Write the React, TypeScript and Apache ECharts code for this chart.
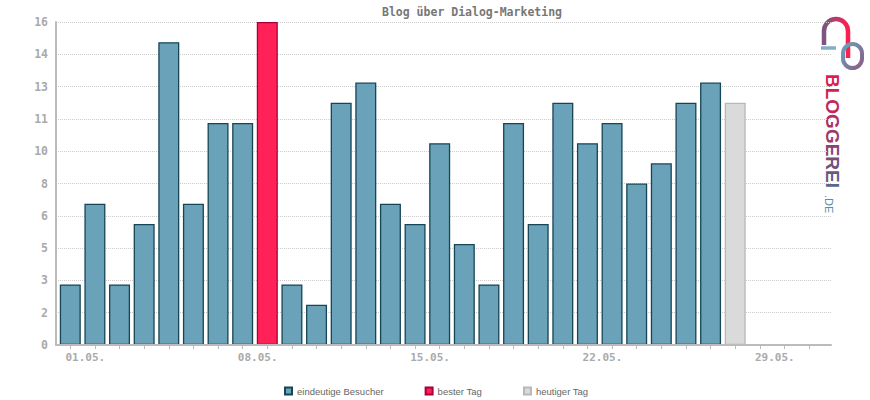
import React, { useEffect, useRef } from 'react';
import * as echarts from 'echarts';

const days = [1, 2, 3, 4, 5, 6, 7, 8, 9, 10, 11, 12, 13, 14, 15, 16, 17, 18, 19, 20, 21, 22, 23, 24, 25, 26, 27, 28];
const visitors = [3, 7, 3, 6, 15, 7, 11, 11, 16, 3, 2, 12, 13, 7, 6, 10, 5, 3, 11, 6, 12, 10, 11, 8, 9, 12, 13, 12];
const bestDay = 9;
const todayDay = 28;
const tickDays = [1, 2, 3, 4, 5, 6, 7, 8, 9, 10, 11, 12, 13, 14, 15, 16, 17, 18, 19, 20, 21, 22, 23, 24, 25, 26, 27, 28, 29, 30, 31];
const labelDays = [1, 8, 15, 22, 29];
const labelTexts = ['01.05.', '08.05.', '15.05.', '22.05.', '29.05.'];
const seriesNames = ['eindeutige Besucher', 'bester Tag', 'heutiger Tag'];
const titleText = 'Blog über Dialog-Marketing';
const logoLetters = ['B', 'L', 'O', 'G', 'G', 'E', 'R', 'E', 'I'];
const logoSuffix = '.DE';

const LABEL_SHIFT = 0.61;
const MONO = '"DejaVu Sans Mono", monospace';
const LOGO_COLORS = ['#dc1e53', '#d22056', '#c3275c', '#ad3263', '#9a3c6a', '#864570', '#754f78', '#665a82', '#5b668d'];

echarts.graphic.registerShape(
  'logoArch',
  echarts.graphic.extendPath('M3 27 L3 13 A12 12 0 0 1 27 13 L27 40', {})
);

export default function App() {
  const ref = useRef<HTMLDivElement>(null);
  useEffect(() => {
    document.body.style.margin = '0';
    const chart = echarts.init(ref.current!, null, { renderer: 'svg' });

    const pick = (f: (d: number) => boolean) =>
      days.map((d, i) => (f(d) ? [d, visitors[i]] : null)).filter((x) => x !== null);

    const barBase = { type: 'bar', barWidth: 21, barGap: '-100%' };

    const rich: Record<string, any> = {};
    logoLetters.forEach((_, i) => {
      rich['l' + i] = {
        fill: LOGO_COLORS[i],
        fontFamily: '"Liberation Sans", Arial, sans-serif',
        fontSize: 19,
        fontWeight: 'bold',
      };
    });
    const logoText = logoLetters.map((c, i) => `{l${i}|${c}}`).join('');

    chart.setOption({
      animation: false,
      title: {
        text: titleText,
        left: 467,
        top: 1,
        textAlign: 'center',
        textStyle: { fontFamily: MONO, fontSize: 11.5, fontWeight: 'bold', color: '#777777' },
      },
      grid: { left: 56, right: 39, top: 22, bottom: 55 },
      legend: {
        left: 279,
        top: 381,
        icon: 'rect',
        itemWidth: 7,
        itemHeight: 7,
        itemGap: 41,
        textStyle: { fontFamily: '"Liberation Sans", Arial, sans-serif', fontSize: 9.5, color: '#666666' },
        data: seriesNames,
      },
      xAxis: {
        type: 'value',
        min: 0.42,
        max: 31.89,
        z: 3,
        splitLine: { show: false },
        axisLine: { show: true, lineStyle: { color: '#bbbbbb', width: 2 } },
        axisTick: { show: true, length: 4, customValues: tickDays, lineStyle: { color: '#bbbbbb', width: 1 } },
        axisLabel: {
          customValues: labelDays.map((d) => d + LABEL_SHIFT),
          formatter: (v: number) => labelTexts[labelDays.indexOf(Math.round(v - LABEL_SHIFT))] || '',
          fontFamily: MONO,
          fontSize: 11,
          fontWeight: 'bold',
          color: '#aaaaaa',
          margin: 7,
        },
      },
      yAxis: {
        type: 'value',
        min: 0,
        max: 16,
        interval: 1.6,
        axisLine: { show: true, lineStyle: { color: '#bbbbbb', width: 2 } },
        axisTick: { show: false },
        splitLine: { show: true, lineStyle: { color: '#cccccc', type: 'dotted', width: 1 } },
        axisLabel: {
          formatter: (v: number) => String(Math.round(v)),
          fontFamily: MONO,
          fontSize: 11.5,
          fontWeight: 'bold',
          color: '#aaaaaa',
          margin: 8,
        },
      },
      series: [
        {
          ...barBase,
          name: seriesNames[0],
          data: pick((d) => d !== bestDay && d !== todayDay),
          itemStyle: { color: '#6aa2b9', borderColor: '#164556', borderWidth: 1.3 },
        },
        {
          ...barBase,
          name: seriesNames[1],
          data: pick((d) => d === bestDay),
          itemStyle: { color: '#ff2157', borderColor: '#a8003a', borderWidth: 1.3 },
        },
        {
          ...barBase,
          name: seriesNames[2],
          data: pick((d) => d === todayDay),
          itemStyle: { color: '#dadada', borderColor: '#b8b8b8', borderWidth: 1.3 },
        },
      ],
      graphic: [
        {
          type: 'logoArch',
          x: 821,
          y: 18,
          style: {
            fill: 'none',
            lineWidth: 4.5,
            stroke: new echarts.graphic.LinearGradient(0, 0, 1, 0, [
              { offset: 0, color: '#7a5482' },
              { offset: 1, color: '#ff1f4f' },
            ]),
          },
        },
        {
          type: 'line',
          shape: { x1: 821, y1: 48, x2: 836, y2: 48 },
          style: { stroke: '#7fb0c6', lineWidth: 3.5 },
        },
        {
          type: 'rect',
          shape: { x: 843, y: 44, width: 19, height: 24, r: 9.5 },
          style: {
            fill: 'none',
            lineWidth: 4,
            stroke: new echarts.graphic.LinearGradient(0, 0, 1, 1, [
              { offset: 0, color: '#6aa2b9' },
              { offset: 1, color: '#8a5d86' },
            ]),
          },
        },
        {
          type: 'text',
          x: 832,
          y: 74,
          rotation: -Math.PI / 2,
          style: {
            text: logoText,
            rich,
            textAlign: 'left',
            textVerticalAlign: 'middle',
          },
        },
        {
          type: 'text',
          x: 829,
          y: 195,
          rotation: -Math.PI / 2,
          style: {
            text: logoSuffix,
            fontFamily: '"Liberation Sans", Arial, sans-serif',
            fontSize: 11,
            textAlign: 'left',
            textVerticalAlign: 'middle',
            fill: '#4f8fb5',
          },
        },
      ],
    });
    return () => chart.dispose();
  }, []);
  return <div ref={ref} style={{ width: 870, height: 400 }} />;
}
